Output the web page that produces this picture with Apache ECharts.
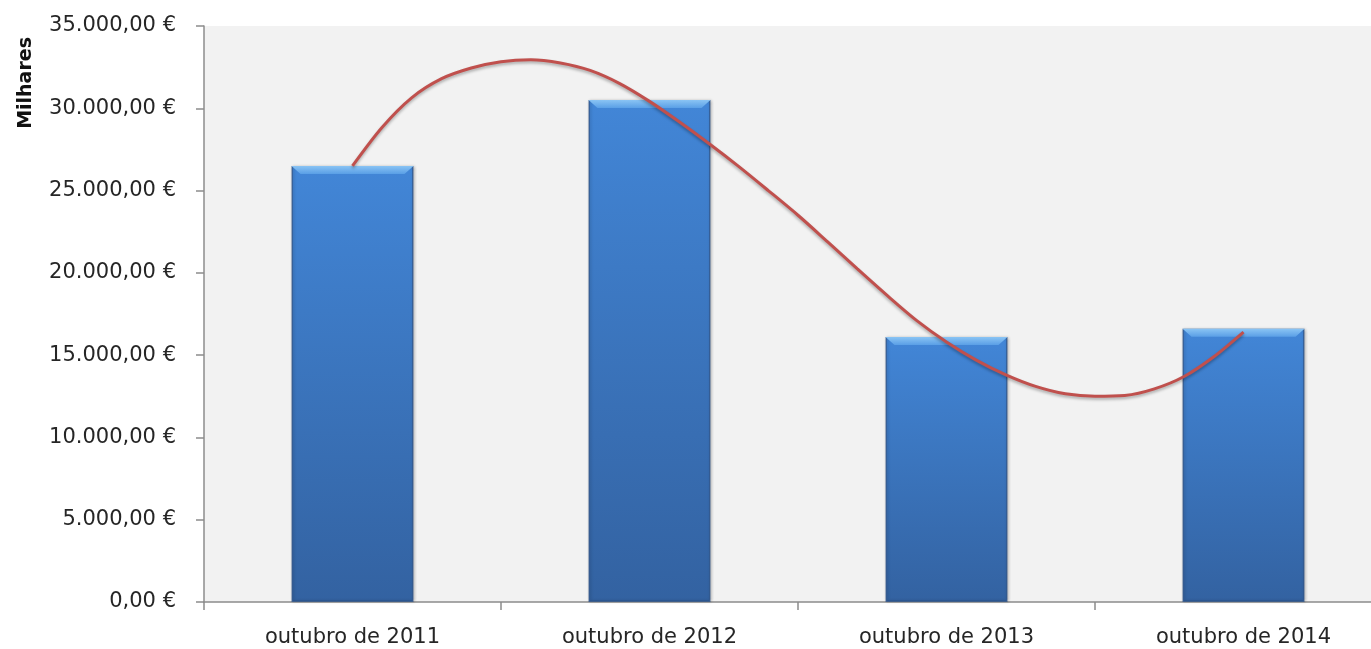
<!DOCTYPE html>
<html>
<head>
<meta charset="utf-8">
<script src="https://cdn.jsdelivr.net/npm/echarts@6/dist/echarts.min.js"></script>
<style>
  html, body { margin: 0; padding: 0; background: #ffffff; overflow: hidden; }
  #chart { width: 1392px; height: 649px; }
</style>
</head>
<body>
<div id="chart"></div>
<script>
// categorias e valores (milhares de euros)
const categories = ['outubro de 2011', 'outubro de 2012', 'outubro de 2013', 'outubro de 2014'];
const barValues = [26500, 30500, 16100, 16600];

// linha de tendência: posição em unidades de categoria, valor
const trendX = [0.5, 0.6, 0.7, 0.8, 0.9, 1.0, 1.1, 1.2, 1.3, 1.4, 1.5, 1.6, 1.7, 1.8, 1.9, 2.0,
                2.1, 2.2, 2.3, 2.4, 2.5, 2.6, 2.7, 2.8, 2.9, 3.0, 3.1, 3.2, 3.3, 3.4, 3.5];
const trendY = [26500, 28850, 30650, 31800, 32450, 32830, 32950, 32750, 32300, 31500, 30420, 29180, 27860, 26470, 25000, 23500,
                21880, 20240, 18630, 17100, 15800, 14700, 13800, 13100, 12650, 12500, 12550, 12950, 13700, 14900, 16400];

const yTicks = [0, 5000, 10000, 15000, 20000, 25000, 30000, 35000];

function formatEuro(v) {
    const parts = v.toFixed(2).split('.');
    const int = parts[0].replace(/\B(?=(\d{3})+(?!\d))/g, '.');
    return int + ',' + parts[1] + ' €';
}

const chart = echarts.init(document.getElementById('chart'));
const font = 'DejaVu Sans';

chart.setOption({
    animation: false,
    grid: {
        left: 204, right: 0, top: 26, bottom: 47,
        show: true, backgroundColor: '#f2f2f2', borderWidth: 0
    },
    xAxis: [{
        type: 'category',
        data: categories,
        axisLine: { lineStyle: { color: '#8c8c8c', width: 1.5 } },
        axisTick: { show: true, length: 8, lineStyle: { color: '#8c8c8c', width: 1.5 } },
        axisLabel: { margin: 25, color: '#262626', fontFamily: font, fontSize: 21 },
        splitLine: { show: false }
    }, {
        type: 'value',
        min: 0, max: categories.length,
        show: false
    }],
    yAxis: {
        type: 'value',
        min: yTicks[0], max: yTicks[yTicks.length - 1], interval: 5000,
        axisLine: { show: true, lineStyle: { color: '#8c8c8c', width: 1.5 } },
        axisTick: { show: true, length: 8, lineStyle: { color: '#8c8c8c', width: 1.5 } },
        axisLabel: { margin: 28, color: '#262626', fontFamily: font, fontSize: 21, formatter: formatEuro },
        splitLine: { show: false }
    },
    graphic: [{
        type: 'text',
        left: 17, top: 37,
        rotation: Math.PI / 2,
        style: { text: 'Milhares', font: 'bold 19px "DejaVu Sans"', fill: '#111' }
    }],
    series: [{
        type: 'bar',
        data: barValues,
        barWidth: 122,
        barGap: '-100%',
        itemStyle: {
            color: new echarts.graphic.LinearGradient(0, 0, 0, 1, [
                { offset: 0, color: '#4286d7' },
                { offset: 1, color: '#3362a1' }
            ]),
            borderColor: 'rgba(38,78,135,0.7)',
            borderWidth: 1.5,
            shadowColor: 'rgba(0,0,0,0.25)',
            shadowBlur: 3,
            shadowOffsetX: 1
        }
    }, {
        type: 'pictorialBar',
        data: barValues,
        barWidth: 122,
        barGap: '-100%',
        symbol: 'path://M0,0 L122,0 L113,8 L9,8 Z',
        symbolSize: [122, 8],
        symbolPosition: 'end',
        symbolOffset: [0, 0],
        itemStyle: {
            color: new echarts.graphic.LinearGradient(0, 0, 0, 1, [
                { offset: 0, color: '#8ac4f4' },
                { offset: 1, color: '#5a9fe6' }
            ])
        },
        z: 3
    }, {
        type: 'line',
        xAxisIndex: 1,
        data: trendX.map((x, i) => [x, trendY[i]]),
        smooth: 0.3,
        showSymbol: false,
        lineStyle: {
            color: '#c0504d', width: 3,
            shadowColor: 'rgba(0,0,0,0.3)', shadowBlur: 3, shadowOffsetY: 2
        },
        z: 5
    }]
});
</script>
</body>
</html>
